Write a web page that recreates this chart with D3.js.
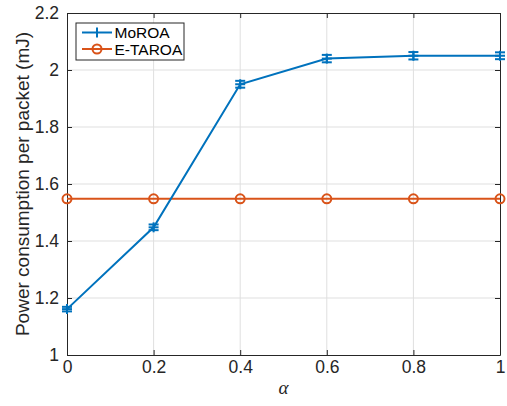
<!DOCTYPE html>
<meta charset="utf-8">
<style>
html, body { margin: 0; background: #fff; }
svg { display: block; font-family: "Liberation Sans", Arial, sans-serif; }
.grid line { stroke: #dfdfdf; stroke-width: 1; }
.axis path, .axis line { stroke: #262626; }
.axis text { fill: #262626; font-size: 17.5px; }
</style>
<body>
<svg width="507" height="406"></svg>
</body>
<script src="https://cdn.jsdelivr.net/npm/d3@7"></script>
<script>

var alphas = [0, 0.2, 0.4, 0.6, 0.8, 1]
var moroa = [1.161, 1.448, 1.950, 2.040, 2.050, 2.050]
var moroaErr = [0.008, 0.010, 0.012, 0.013, 0.013, 0.012]
var etaroa = [1.548, 1.548, 1.548, 1.548, 1.548, 1.548]
var xTicks = [0, 0.2, 0.4, 0.6, 0.8, 1]
var yTicks = [1, 1.2, 1.4, 1.6, 1.8, 2, 2.2]

var blue = "#0072bd", orange = "#d95319"

var svg = d3.select("svg")
var mLeft = 67, mRight = 500, mTop = 13, mBottom = 355

var x = d3.scaleLinear().domain([0, 1]).range([mLeft, mRight])
var y = d3.scaleLinear().domain([1, 2.2]).range([mBottom, mTop])

// grid
var grid = svg.append("g").attr("class", "grid")
grid.selectAll(".gx").data(xTicks.slice(1, -1)).enter().append("line")
  .attr("x1", d => x(d)).attr("x2", d => x(d)).attr("y1", mTop).attr("y2", mBottom)
grid.selectAll(".gy").data(yTicks.slice(1, -1)).enter().append("line")
  .attr("y1", d => y(d)).attr("y2", d => y(d)).attr("x1", mLeft).attr("x2", mRight)

// axes
var fmt = d => d3.format("~g")(d)
svg.append("g").attr("class", "axis").attr("transform", "translate(0," + mBottom + ")")
  .call(d3.axisBottom(x).tickValues(xTicks).tickFormat(fmt).tickSizeInner(-5).tickSizeOuter(0).tickPadding(6))
svg.append("g").attr("class", "axis").attr("transform", "translate(0," + mTop + ")")
  .call(d3.axisTop(x).tickValues(xTicks).tickFormat("").tickSizeInner(-5).tickSizeOuter(0))
svg.append("g").attr("class", "axis").attr("transform", "translate(" + mLeft + ",0)")
  .call(d3.axisLeft(y).tickValues(yTicks).tickFormat(fmt).tickSizeInner(-5).tickSizeOuter(0).tickPadding(8))
svg.append("g").attr("class", "axis").attr("transform", "translate(" + mRight + ",0)")
  .call(d3.axisRight(y).tickValues(yTicks).tickFormat("").tickSizeInner(-5).tickSizeOuter(0))

// lines
var line = d3.line().x((d, i) => x(alphas[i])).y(d => y(d))
svg.append("path").datum(etaroa).attr("d", line)
  .attr("fill", "none").attr("stroke", orange).attr("stroke-width", 2)
svg.selectAll(".om").data(etaroa).enter().append("circle")
  .attr("cx", (d, i) => x(alphas[i])).attr("cy", d => y(d)).attr("r", 4.5)
  .attr("fill", "none").attr("stroke", orange).attr("stroke-width", 2)

svg.append("path").datum(moroa).attr("d", line)
  .attr("fill", "none").attr("stroke", blue).attr("stroke-width", 2)

var eb = svg.append("g").attr("stroke", blue).attr("stroke-width", 2).attr("fill", "none")
moroa.forEach(function(v, i) {
  var cx = x(alphas[i]), y1 = y(v - moroaErr[i]), y2 = y(v + moroaErr[i])
  eb.append("line").attr("x1", cx).attr("x2", cx).attr("y1", y1).attr("y2", y2)
  eb.append("line").attr("x1", cx - 5).attr("x2", cx + 5).attr("y1", y1).attr("y2", y1)
  eb.append("line").attr("x1", cx - 5).attr("x2", cx + 5).attr("y1", y2).attr("y2", y2)
  // plus marker
  eb.append("line").attr("x1", cx - 5).attr("x2", cx + 5).attr("y1", y(v)).attr("y2", y(v))
  eb.append("line").attr("x1", cx).attr("x2", cx).attr("y1", y(v) - 5).attr("y2", y(v) + 5)
})

// labels
svg.append("text").attr("x", x(0.5)).attr("y", 394).attr("text-anchor", "middle")
  .attr("font-family", "'Liberation Serif', serif").attr("font-style", "italic")
  .attr("font-size", 19).attr("fill", "#262626").text("α")
svg.append("text").attr("transform", "translate(29," + 184 + ") rotate(-90)")
  .attr("text-anchor", "middle").attr("font-size", 19).attr("fill", "#262626")
  .text("Power consumption per packet (mJ)")

// legend
var lg = svg.append("g")
lg.append("rect").attr("x", 76).attr("y", 23).attr("width", 108).attr("height", 37)
  .attr("fill", "#fff").attr("stroke", "#262626").attr("stroke-width", 1)
var items = [{name: "MoROA", color: blue, mk: "plus"}, {name: "E-TAROA", color: orange, mk: "circle"}]
items.forEach(function(d, i) {
  var ly = 32.5 + i * 16.5
  lg.append("line").attr("x1", 82).attr("x2", 112).attr("y1", ly).attr("y2", ly)
    .attr("stroke", d.color).attr("stroke-width", 2)
  if (d.mk == "plus") {
    lg.append("line").attr("x1", 97).attr("x2", 97).attr("y1", ly - 5).attr("y2", ly + 5)
      .attr("stroke", d.color).attr("stroke-width", 2)
  } else {
    lg.append("circle").attr("cx", 97).attr("cy", ly).attr("r", 4.5)
      .attr("fill", "none").attr("stroke", d.color).attr("stroke-width", 2)
  }
  lg.append("text").attr("x", 114.5).attr("y", ly).attr("dy", "0.36em")
    .attr("font-size", 15.5).attr("fill", "#000").text(d.name)
})

</script>
